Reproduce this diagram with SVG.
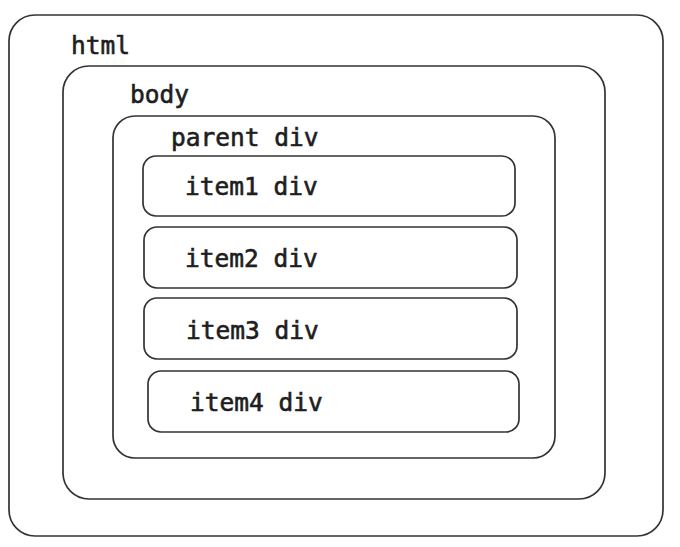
<svg xmlns="http://www.w3.org/2000/svg" width="680" height="547" viewBox="0 0 680 547">
<style>
.box{fill:none;stroke:#333;stroke-width:1.7}
.lbl{font-family:"DejaVu Sans Mono","Liberation Mono",monospace;font-size:24.5px;font-weight:normal;fill:#1e1e1e;stroke:#1e1e1e;stroke-width:0.6}
</style>
<rect width="680" height="547" fill="#fff"/>
<g id="html"><rect class="box" x="9" y="15" width="654" height="521" rx="26"/><text class="lbl" x="71" y="54">html</text></g>
<g id="body"><rect class="box" x="63" y="66" width="542" height="433" rx="26"/><text class="lbl" x="130" y="103">body</text></g>
<g id="parent"><rect class="box" x="113" y="116" width="442" height="342" rx="22"/><text class="lbl" x="171" y="146">parent div</text></g>
<g id="item1"><rect class="box" x="143" y="156" width="372" height="60" rx="13"/><text class="lbl" x="185" y="195">item1 div</text></g>
<g id="item2"><rect class="box" x="144" y="227" width="373" height="61" rx="13"/><text class="lbl" x="185" y="267">item2 div</text></g>
<g id="item3"><rect class="box" x="144" y="298" width="373" height="61" rx="13"/><text class="lbl" x="186" y="339">item3 div</text></g>
<g id="item4"><rect class="box" x="148" y="371" width="371" height="61" rx="13"/><text class="lbl" x="190" y="411">item4 div</text></g>
<g id="connectors"></g>
</svg>
